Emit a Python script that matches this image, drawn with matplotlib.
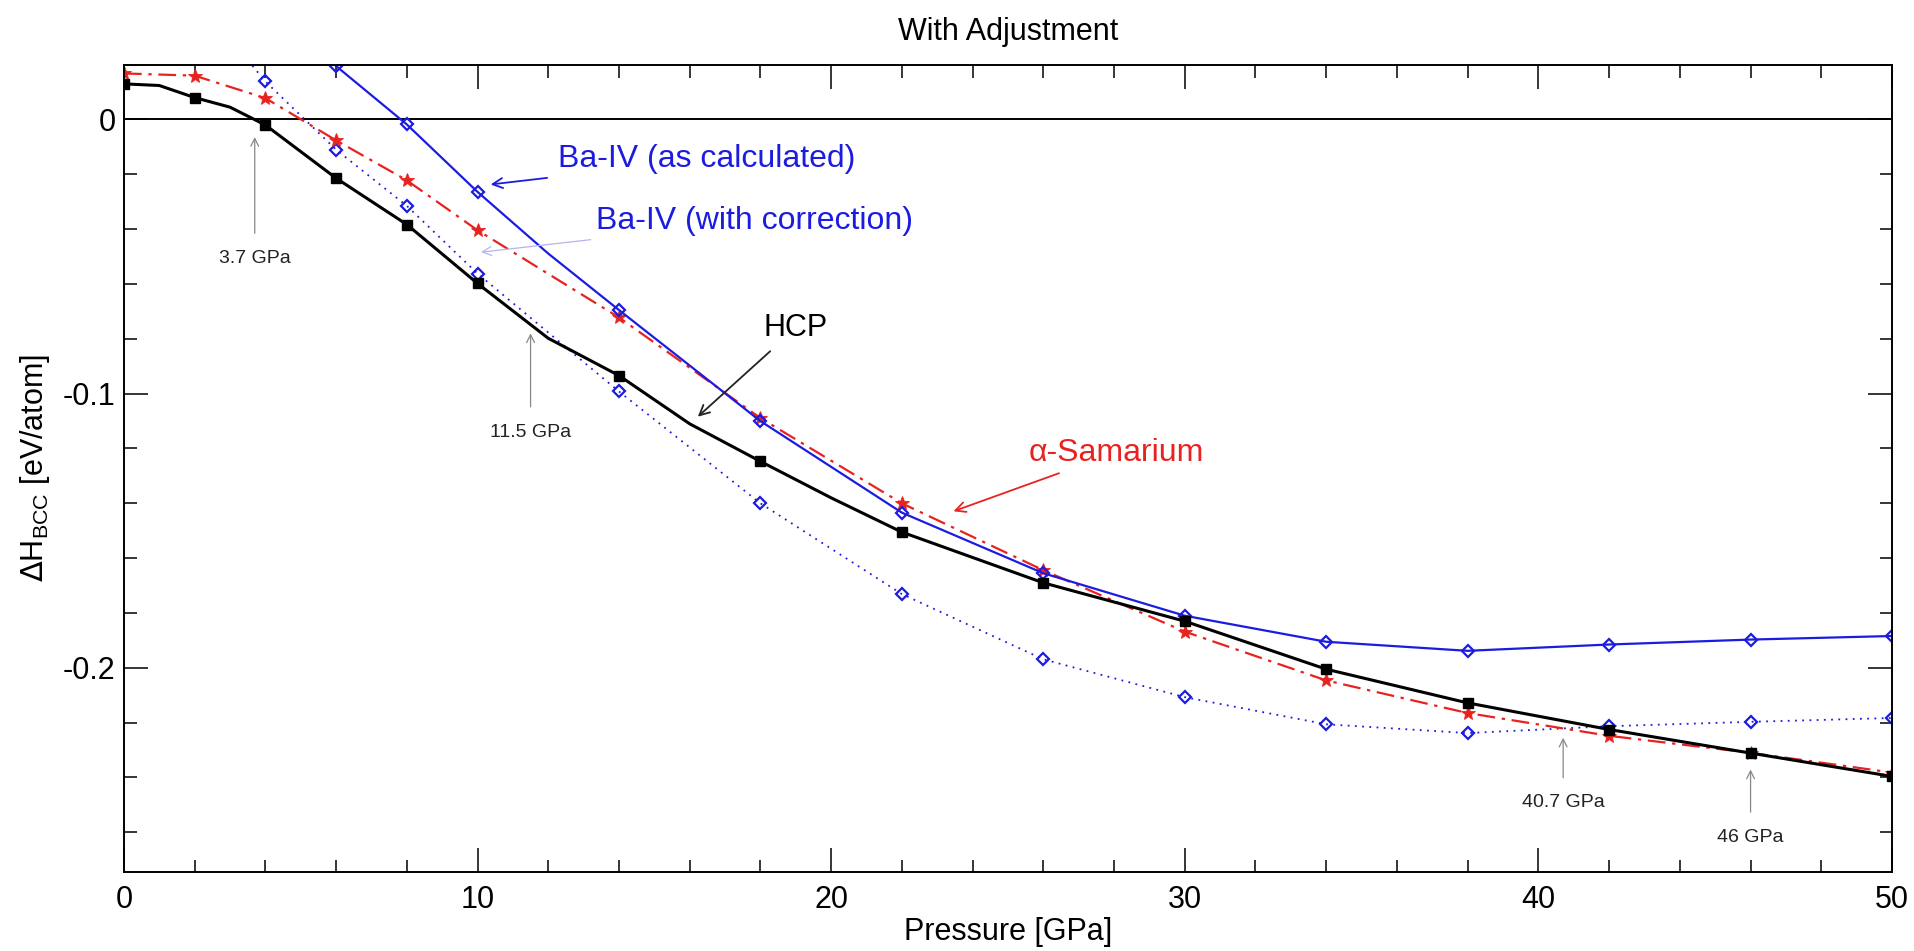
import matplotlib
matplotlib.use("Agg")
import matplotlib.pyplot as plt
from matplotlib.ticker import MultipleLocator, FuncFormatter

plt.rcParams['font.family'] = ['Liberation Sans', 'DejaVu Sans']
plt.rcParams['axes.unicode_minus'] = False

# HCP (line vertices, markers only at hcp_mark)
hcp_p = [0, 1, 2, 3, 4, 6, 8, 10, 12, 14, 16, 18, 20, 22, 26, 30, 34, 38, 42, 46, 50]
hcp_h = [0.0130, 0.0124, 0.0080, 0.0045, -0.0020, -0.0214, -0.0383, -0.0598, -0.0798,
         -0.0934, -0.1110, -0.1247, -0.1380, -0.1505, -0.1690, -0.1830, -0.2005,
         -0.2128, -0.2225, -0.2311, -0.2396]
hcp_mark = [0, 2, 4, 5, 6, 7, 9, 11, 13, 14, 15, 16, 17, 18, 19, 20]

# alpha-Samarium
sm_p = [0, 2, 4, 6, 8, 10, 14, 18, 22, 26, 30, 34, 38, 42, 46, 50]
sm_h = [0.0168, 0.0160, 0.0078, -0.0076, -0.0222, -0.0404, -0.0722, -0.1089, -0.1400,
        -0.1644, -0.1868, -0.2046, -0.2165, -0.2248, -0.2310, -0.2382]

# Ba-IV as calculated
ba_p = [6, 8, 10, 12, 14, 18, 22, 26, 30, 34, 38, 42, 46, 50]
ba_h = [0.0195, -0.0018, -0.0264, -0.0489, -0.0695, -0.1100, -0.1434, -0.1655, -0.1810,
        -0.1905, -0.1938, -0.1915, -0.1897, -0.1884]
ba_mark = [0, 1, 2, 4, 5, 6, 7, 8, 9, 10, 11, 12, 13]

# Ba-IV with correction
bac_p = [2, 4, 6, 8, 10, 14, 18, 22, 26, 30, 34, 38, 42, 46, 50]
bac_h = [0.0450, 0.0139, -0.0110, -0.0315, -0.0562, -0.0992, -0.1400, -0.1731, -0.1969,
         -0.2107, -0.2206, -0.2238, -0.2213, -0.2197, -0.2183]

# transition pressures marked with small arrows
gpa_x = [3.7, 11.5, 40.7, 46.0]
gpa_text = ["3.7 GPa", "11.5 GPa", "40.7 GPa", "46 GPa"]
gpa_label_y = [-0.0507, -0.1140, -0.2493, -0.2618]
gpa_tip_y = [-0.0064, -0.0780, -0.2255, -0.2371]

blue = '#1c1ce0'
red = '#e8231f'

fig = plt.figure(figsize=(19.15, 9.51), dpi=100)
ax = fig.add_subplot(111)
fig.subplots_adjust(left=0.0647, right=0.988, top=0.932, bottom=0.083)

ax.axhline(0, color='black', lw=1.4, zorder=1)

ax.plot(bac_p, bac_h, color=blue, lw=1.3, ls=(0, (1, 3)), marker='D', markersize=6.5,
        markerfacecolor='none', markeredgewidth=1.6, markevery=list(range(1, len(bac_p))))
ax.plot(sm_p, sm_h, color=red, lw=1.6, ls=(0, (8, 3, 1.5, 3)), marker='*', markersize=10,
        markeredgewidth=0.6)
ax.plot(ba_p, ba_h, color=blue, lw=1.6, marker='D', markersize=6.5, markerfacecolor='none',
        markeredgewidth=1.6, markevery=ba_mark)
ax.plot(hcp_p, hcp_h, color='black', lw=2.2, marker='s', markersize=6.5, markevery=hcp_mark)

ax.set_xlim(0, 50)
ax.set_ylim(-0.2745, 0.02)

ax.xaxis.set_major_locator(MultipleLocator(10))
ax.xaxis.set_minor_locator(MultipleLocator(2))
ax.yaxis.set_major_locator(MultipleLocator(0.1))
ax.yaxis.set_minor_locator(MultipleLocator(0.02))
ax.yaxis.set_major_formatter(FuncFormatter(lambda v, pos: f"{v:g}" if abs(v) > 1e-9 else "0"))
ax.tick_params(which='both', direction='in', top=True, right=True, labelsize=22, width=1.1)
ax.tick_params(which='major', length=17)
ax.tick_params(which='minor', length=9)
ax.tick_params(axis='x', which='major', pad=9)
ax.tick_params(axis='y', which='major', pad=6)
for s in ax.spines.values():
    s.set_linewidth(1.4)

ax.set_xlabel("Pressure [GPa]", fontsize=22, labelpad=2)
ax.set_ylabel(r"$\Delta$H$_{\mathregular{BCC}}$ [eV/atom]", fontsize=22, labelpad=8)
ax.set_title("With Adjustment", fontsize=22, pad=18)

# labelled curves
ax.annotate("Ba-IV (as calculated)", xy=(10.37, -0.0237), xytext=(12.28, -0.0145),
            fontsize=23, color=blue, va='center', ha='left',
            arrowprops=dict(arrowstyle='->', color=blue, lw=1.3, shrinkA=6, shrinkB=0,
                            mutation_scale=18))
ax.annotate("Ba-IV (with correction)", xy=(10.1, -0.0484), xytext=(13.35, -0.0370),
            fontsize=23, color=blue, va='center', ha='left',
            arrowprops=dict(arrowstyle='->', color='#b4b4f0', lw=0.9, shrinkA=6, shrinkB=0,
                            mutation_scale=16))
ax.annotate("HCP", xy=(16.23, -0.1084), xytext=(18.1, -0.0760),
            fontsize=22, color='black', va='center', ha='left',
            arrowprops=dict(arrowstyle='->', color='#222222', lw=1.3, shrinkA=6, shrinkB=0,
                            mutation_scale=18))
ax.annotate("α-Samarium", xy=(23.46, -0.1429), xytext=(25.58, -0.1215),
            fontsize=23, color=red, va='center', ha='left',
            arrowprops=dict(arrowstyle='->', color=red, lw=1.3, shrinkA=6, shrinkB=0,
                            mutation_scale=18))

for gx, gt, ly, ty in zip(gpa_x, gpa_text, gpa_label_y, gpa_tip_y):
    ax.annotate(gt, xy=(gx, ty), xytext=(gx, ly), fontsize=14, color='#222222',
                ha='center', va='center',
                arrowprops=dict(arrowstyle='->', color='#888888', lw=0.9, shrinkA=10,
                                shrinkB=0, mutation_scale=14))

fig.savefig("out.png", dpi=100)
